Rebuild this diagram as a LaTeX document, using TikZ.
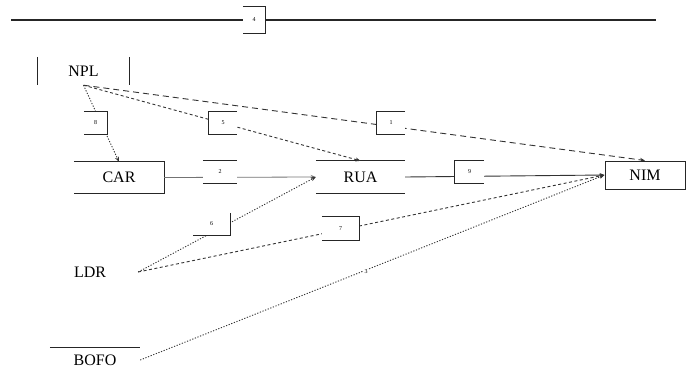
\documentclass[tikz,border=0pt]{standalone}
\usepackage{fontspec}
\setmainfont{Liberation Serif}
\usetikzlibrary{arrows.meta}
\begin{document}
\begin{tikzpicture}[x=1pt,y=-1pt,
  var/.style={inner sep=0pt, font=\fontsize{16}{16}\selectfont},
  frame/.style={line width=1.1pt, black!85},
  lab/.style={fill=white, inner sep=0pt, font=\fontsize{6}{6}\selectfont},
  edge/.style={line width=0.9pt, black!80, -{Stealth[length=5pt,width=4pt]}},
  dots/.style={edge, dash pattern=on 1.2pt off 1.6pt},
  shortdash/.style={edge, dash pattern=on 3pt off 2.5pt},
  longdash/.style={edge, dash pattern=on 6pt off 4pt}]
\useasboundingbox (0,0) rectangle (686,373);

% variables
\node[var, minimum width=91pt, minimum height=28pt] (NPL) at (83.5,71) {NPL};
\node[var, minimum width=90pt, minimum height=31pt] (CAR) at (119,177.5) {CAR};
\node[var, minimum width=89pt, minimum height=32pt] (RUA) at (360.5,177) {RUA};
\node[var, draw=black!85, line width=1pt, minimum width=80pt, minimum height=28pt] (NIM) at (645,175) {NIM};
\node[var, minimum width=96pt, minimum height=20pt] (LDR) at (90,272) {LDR};
\node[var, minimum width=90pt, minimum height=24pt] (BOFO) at (95,360) {BOFO};

\draw[frame] (NPL.north west) -- (NPL.south west) (NPL.north east) -- (NPL.south east);
\draw[frame] (CAR.north west) -- (CAR.north east) -- (CAR.south east) -- (CAR.south west);
\draw[frame] (RUA.north west) -- (RUA.north east) (RUA.south west) -- (RUA.south east);
\draw[frame] (BOFO.north west) -- (BOFO.north east);

% top line
\coordinate (TL) at (11,20);
\coordinate (TR) at (656,20);
\draw[frame] (TL) -- (TR);

% connectors
\draw[dots] (NPL.south) -- (CAR.north);
\draw[shortdash] (NPL.south) -- (RUA.north);
\draw[longdash] (NPL.south) -- (NIM.north);
\draw[edge, black!55, line width=0.8pt] (CAR.east) -- (RUA.west);
\draw[edge] (RUA.east) -- (NIM.west);
\draw[dots] (LDR.east) -- (RUA.west);
\draw[shortdash] (LDR.east) -- (NIM.west);
\draw[dots] (BOFO.east) -- (NIM.west);

% labels
\node[lab, minimum width=22pt, minimum height=26pt] (L0) at (254,20) {4};
\draw[frame] (L0.north west) -- (L0.north east) -- (L0.south east) -- (L0.south west);
\node[lab, minimum width=23pt, minimum height=22pt] (L1) at (95.5,123) {8};
\draw[frame] (L1.north west) -- (L1.north east) -- (L1.south east) -- (L1.south west);
\node[lab, minimum width=28pt, minimum height=22pt] (L2) at (223,123) {5};
\draw[frame] (L2.north east) -- (L2.north west) -- (L2.south west) -- (L2.south east);
\node[lab, minimum width=28pt, minimum height=22pt] (L3) at (391,123) {1};
\draw[frame] (L3.north east) -- (L3.north west) -- (L3.south west) -- (L3.south east);
\node[lab, minimum width=34pt, minimum height=22pt] (L4) at (220,172) {2};
\draw[frame] (L4.north west) -- (L4.north east) (L4.south west) -- (L4.south east);
\node[lab, minimum width=29pt, minimum height=22pt] (L5) at (469.5,172) {9};
\draw[frame] (L5.north east) -- (L5.north west) -- (L5.south west) -- (L5.south east);
\node[lab, minimum width=37pt, minimum height=22pt] (L6) at (211.5,224) {6};
\draw[frame] (L6.north east) -- (L6.south east) -- (L6.south west);
\node[lab, minimum width=37pt, minimum height=23pt] (L7) at (340.5,228.5) {7};
\draw[frame] (L7.north west) -- (L7.north east) -- (L7.south east) -- (L7.south west);
\node[lab, minimum width=6pt, minimum height=6pt] (L8) at (366,272) {3};
\end{tikzpicture}
\end{document}
